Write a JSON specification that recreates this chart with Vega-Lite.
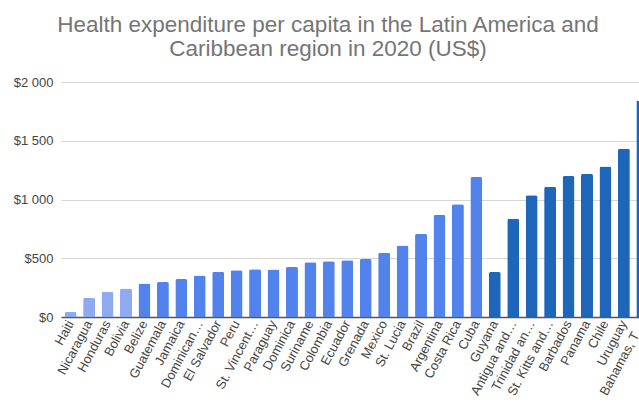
{
  "$schema": "https://vega.github.io/schema/vega-lite/v6.json",
  "autosize": {"type": "none"},
  "width": 578,
  "height": 235,
  "padding": {"left": 61, "top": 82, "right": 0, "bottom": 90},
  "background": "white",
  "config": {"view": {"stroke": null}, "font": "Liberation Sans"},
  "title": {
    "text": ["Health expenditure per capita in the Latin America and", "Caribbean region in 2020 (US$)"],
    "fontSize": 22.5,
    "fontWeight": "normal",
    "color": "#757575",
    "font": "Liberation Sans",
    "anchor": "middle",
    "dx": -22,
    "lineHeight": 24,
    "offset": 16
  },
  "data": {
    "values": [
      {"country": "Haiti", "value": 43, "group": "a"},
      {"country": "Nicaragua", "value": 163, "group": "a"},
      {"country": "Honduras", "value": 214, "group": "a"},
      {"country": "Bolivia", "value": 243, "group": "a"},
      {"country": "Belize", "value": 286, "group": "b"},
      {"country": "Guatemala", "value": 297, "group": "b"},
      {"country": "Jamaica", "value": 323, "group": "b"},
      {"country": "Dominican…", "value": 354, "group": "b"},
      {"country": "El Salvador", "value": 386, "group": "b"},
      {"country": "Peru", "value": 397, "group": "b"},
      {"country": "St. Vincent…", "value": 406, "group": "b"},
      {"country": "Paraguay", "value": 405, "group": "b"},
      {"country": "Dominica", "value": 426, "group": "b"},
      {"country": "Suriname", "value": 466, "group": "b"},
      {"country": "Colombia", "value": 474, "group": "b"},
      {"country": "Ecuador", "value": 483, "group": "b"},
      {"country": "Grenada", "value": 494, "group": "b"},
      {"country": "Mexico", "value": 546, "group": "b"},
      {"country": "St. Lucia", "value": 609, "group": "b"},
      {"country": "Brazil", "value": 709, "group": "b"},
      {"country": "Argentina", "value": 869, "group": "b"},
      {"country": "Costa Rica", "value": 960, "group": "b"},
      {"country": "Cuba", "value": 1191, "group": "b"},
      {"country": "Guyana", "value": 383, "group": "c"},
      {"country": "Antigua and…", "value": 837, "group": "c"},
      {"country": "Trinidad an…", "value": 1037, "group": "c"},
      {"country": "St. Kitts and…", "value": 1109, "group": "c"},
      {"country": "Barbados", "value": 1200, "group": "c"},
      {"country": "Panama", "value": 1220, "group": "c"},
      {"country": "Chile", "value": 1280, "group": "c"},
      {"country": "Uruguay", "value": 1431, "group": "c"},
      {"country": "Bahamas, T…", "value": 1843, "group": "c"}
    ]
  },
  "mark": {"type": "bar", "cornerRadiusTopLeft": 2, "cornerRadiusTopRight": 2},
  "encoding": {
    "x": {
      "field": "country",
      "type": "nominal",
      "sort": null,
      "scale": {"range": [0, 591], "paddingInner": 0.35, "paddingOuter": 0.2},
      "axis": {
        "title": null,
        "labelAngle": -62,
        "labelFontSize": 13,
        "labelColor": "#444444",
        "labelFont": "Liberation Sans",
        "labelPadding": 4,
        "labelOverlap": false,
        "ticks": false,
        "domainColor": "#555555",
        "domainWidth": 1.5,
        "grid": false
      }
    },
    "y": {
      "field": "value",
      "type": "quantitative",
      "scale": {"domain": [0, 2000], "nice": false},
      "axis": {
        "title": null,
        "values": [0, 500, 1000, 1500, 2000],
        "labelExpr": "'$' + replace(format(datum.value, ','), ',', ' ')",
        "labelFontSize": 13,
        "labelColor": "#444444",
        "labelFont": "Liberation Sans",
        "labelPadding": 8,
        "ticks": false,
        "domain": false,
        "gridColor": "#d6d6d6",
        "gridWidth": 1.2
      }
    },
    "color": {
      "field": "group",
      "type": "nominal",
      "scale": {"domain": ["a", "b", "c"], "range": ["#8fabef", "#5282ec", "#1d66b9"]},
      "legend": null
    }
  }
}
